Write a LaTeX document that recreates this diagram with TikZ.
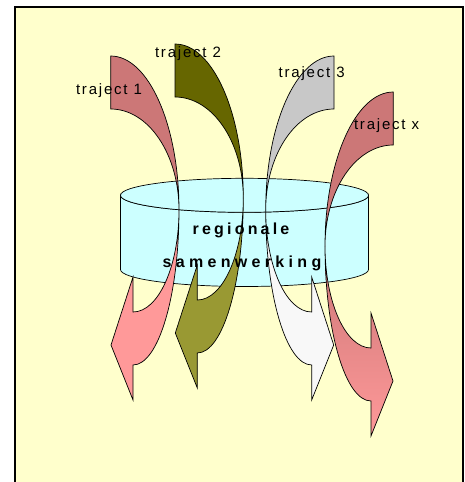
\documentclass[tikz,border=0pt]{standalone}
\usepackage{fontspec}
\setmainfont{Liberation Sans}
\newfontfamily\labelfont[LetterSpace=12]{Liberation Sans}
\newfontfamily\centerfont[LetterSpace=20]{Liberation Sans}
\newfontfamily\centerfontw[LetterSpace=27]{Liberation Sans}
\definecolor{bgy}{HTML}{FFFFCC}
\definecolor{cyl}{HTML}{CCFFFF}
\definecolor{cAu}{HTML}{CC7777}
\definecolor{cAl}{HTML}{FF9999}
\definecolor{cBu}{HTML}{666600}
\definecolor{cBl}{HTML}{999933}
\definecolor{cCu}{HTML}{C8C8C8}
\definecolor{cCl}{HTML}{F8F8F8}
\newcommand\trajarrow[3]{%
\begin{scope}[#1]
\path[outline, fill=#2] (-68.3,-154) arc[start angle=270,end angle=360,x radius=68.3,y radius=154]
  arc[start angle=0,end angle=-90,x radius=68.3,y radius=101] -- cycle;
\path[outline, #3] (0,0) arc[start angle=0,end angle=90,x radius=46,y radius=155]
  -- (-46,190) -- (-68,135) -- (-46,67) -- (-46,102)
  arc[start angle=90,end angle=0,x radius=46,y radius=102] -- cycle;
\end{scope}}
\begin{document}
\begin{tikzpicture}[x=1pt,y=-1pt,
  outline/.style={draw=black, line width=0.7pt, line join=miter},
  lbl/.style={inner sep=0pt, outer sep=0pt, font=\labelfont\fontsize{15}{18}\selectfont, anchor=base west},
  ctr/.style={inner sep=0pt, outer sep=0pt, font=\centerfont\bfseries\fontsize{16}{19}\selectfont, anchor=base},
  ctrw/.style={ctr, font=\centerfontw\bfseries\fontsize{16}{19}\selectfont}]
\useasboundingbox (0,0) rectangle (464,482);
\clip (0,0) rectangle (464,482);
\fill[white] (0,0) rectangle (464,482);
\draw[line width=2pt, fill=bgy] (15,7) rectangle (463,520);
% cylinder
\path[outline, fill=cyl] (120.5,195.3) -- (120.5,269.5)
  arc[start angle=180,end angle=0,x radius=124,y radius=17] -- (368.5,195.3)
  arc[start angle=0,end angle=180,x radius=124,y radius=17] -- cycle;
\path[outline, fill=cyl] (244.5,195.3) ellipse[x radius=124, y radius=17];
% arrows
\trajarrow{shift={(179,210)}}{cAu}{fill=cAl}
\trajarrow{shift={(243.3,198)}}{cBu}{fill=cBl}
\trajarrow{shift={(265.7,210)},xscale=-1}{cCu}{fill=cCl}
\trajarrow{shift={(325,246)},xscale=-1}{cAu}{top color=cAu, bottom color=cAl}
% labels
\node[lbl] (t1) at (76,94) {traject 1};
\node[lbl] (t2) at (155,57) {traject 2};
\node[lbl] (t3) at (278.7,77.3) {traject 3};
\node[lbl] (tx) at (354,129.3) {traject x};
\node[ctr] (reg) at (241,234) {regionale};
\node[ctrw] (sam) at (242,267) {samenwerking};
\end{tikzpicture}
\end{document}
